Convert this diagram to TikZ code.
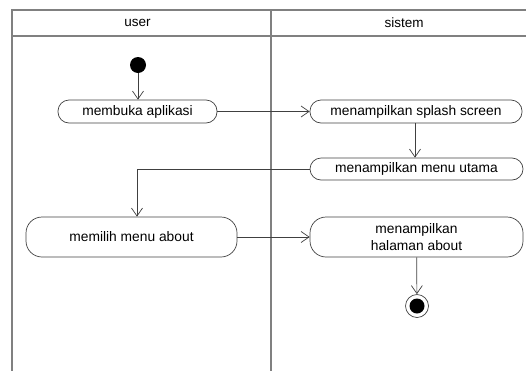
\documentclass[tikz,border=0pt]{standalone}
\usepackage{fontspec}
\setmainfont{Liberation Sans}
\usetikzlibrary{arrows.meta}
\begin{document}
\begin{tikzpicture}[x=1pt,y=-1pt,
  lane/.style={draw=black!50,line width=1.3pt},
  act/.style={draw=black!75,line width=0.7pt,rounded corners=11pt,
    minimum height=23pt,inner sep=0pt,align=center,font=\fontsize{13.8}{17}\selectfont},
  bigact/.style={act,rounded corners=16pt,minimum height=40pt},
  flow/.style={draw=black!75,line width=0.7pt,-{Straight Barb[length=8pt,width=11pt,line width=0.7pt]}},
  hdr/.style={font=\fontsize{13.5}{16}\selectfont}]
\useasboundingbox (0,0) rectangle (526,370);
\clip (0,0) rectangle (526,370);
% swimlane frame
\draw[lane] (12,400) -- (12,10) -- (560,10);
\draw[lane] (12,36) -- (560,36);
\draw[lane] (271,10) -- (271,400);
\node[hdr] (huser) at (137.5,23) {user};
\node[hdr] (hsis) at (404,23) {sistem};
% start and end states
\node[circle,fill=black,minimum size=16pt,inner sep=0pt] (start) at (138,65) {};
\node[circle,draw=black!75,line width=0.7pt,minimum size=23pt,inner sep=0pt] (stop) at (417,306) {};
\node[circle,fill=black,minimum size=15pt,inner sep=0pt] (stopin) at (417,306) {};
% activities
\node[act,minimum width=159pt] (buka) at (137.5,111.5) {membuka aplikasi};
\node[act,minimum width=212pt] (splash) at (416,111.5) {menampilkan splash screen};
\node[act,minimum width=213pt,minimum height=22pt] (utama) at (416.5,169) {menampilkan menu utama};
\node[bigact,minimum width=211pt] (pilih) at (131.5,237) {memilih menu about};
\node[bigact,minimum width=213pt] (about) at (416.5,237) {menampilkan\\halaman about};
\coordinate (bend) at (137,169);
% control flow
\draw[flow] (start) -- (buka.north -| start);
\draw[flow] (buka) -- (splash);
\draw[flow] (splash.south -| 415,0) -- (utama.north -| 415,0);
\draw[flow] (utama.west) -- (bend) -- (pilih.north -| bend);
\draw[flow] (pilih) -- (about);
\draw[flow] (about) -- (stop);
\end{tikzpicture}
\end{document}
